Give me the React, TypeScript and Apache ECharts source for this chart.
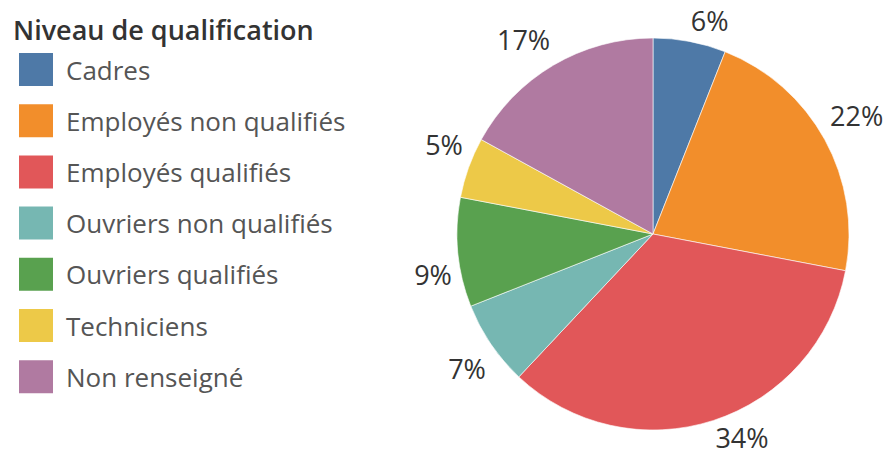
import React, { useEffect, useRef } from "react";
import * as echarts from "echarts";

const categories = [
  "Cadres",
  "Employés non qualifiés",
  "Employés qualifiés",
  "Ouvriers non qualifiés",
  "Ouvriers qualifiés",
  "Techniciens",
  "Non renseigné",
];
const values = [6, 22, 34, 7, 9, 5, 17];
const colors = ["#4e79a7", "#f28e2b", "#e15759", "#76b7b2", "#59a14f", "#edc948", "#b07aa1"];
const legendTitle = "Niveau de qualification";

const W = 886;
const H = 457;
const CENTER_Y = 234;

export default function App() {
  const ref = useRef<HTMLDivElement>(null);
  useEffect(() => {
    if (!ref.current) return;
    const chart = echarts.init(ref.current, null, { renderer: "svg" });
    const font = "'Open Sans', sans-serif";
    const edge = 20;
    chart.setOption({
      animation: false,
      backgroundColor: "#ffffff",
      color: colors,
      title: {
        text: legendTitle,
        left: 8,
        top: 11,
        textStyle: { fontFamily: font, fontSize: 27, fontWeight: 600, color: "#333333" },
      },
      legend: {
        orient: "vertical",
        left: 17,
        top: 51,
        padding: 0,
        icon: "rect",
        itemWidth: 36,
        itemHeight: 35,
        itemGap: 14.2,
        textStyle: {
          fontFamily: font,
          fontSize: 26,
          lineHeight: 30,
          color: "#555555",
          padding: [0, 0, 0, 7],
        },
        data: categories,
      },
      series: [
        {
          type: "pie",
          center: [653, CENTER_Y],
          radius: 196,
          startAngle: 90,
          clockwise: true,
          avoidLabelOverlap: false,
          itemStyle: { borderColor: "#ffffff", borderWidth: 0.6 },
          label: {
            show: true,
            position: "outside",
            formatter: "{c}%",
            fontFamily: font,
            fontSize: 27,
            lineHeight: 27,
            color: "#333333",
          },
          labelLine: { show: false, length: 6, length2: -5 },
          labelLayout: (params: any) => {
            const r = params.labelRect;
            const anchorY = r.y + r.height / 2;
            const h = r.height;
            if (anchorY < CENTER_Y) {
              const dy = Math.max(-7.5, edge - anchorY + h / 2);
              return { verticalAlign: "bottom", dy };
            }
            const dy = Math.min(7.5, H - edge - anchorY - h / 2);
            return { verticalAlign: "top", dy };
          },
          data: categories.map((name, i) => ({ name, value: values[i] })),
        },
      ],
    });
    return () => chart.dispose();
  }, []);
  return (
    <div
      ref={ref}
      style={{ position: "fixed", left: 0, top: 0, width: W, height: H }}
    />
  );
}
